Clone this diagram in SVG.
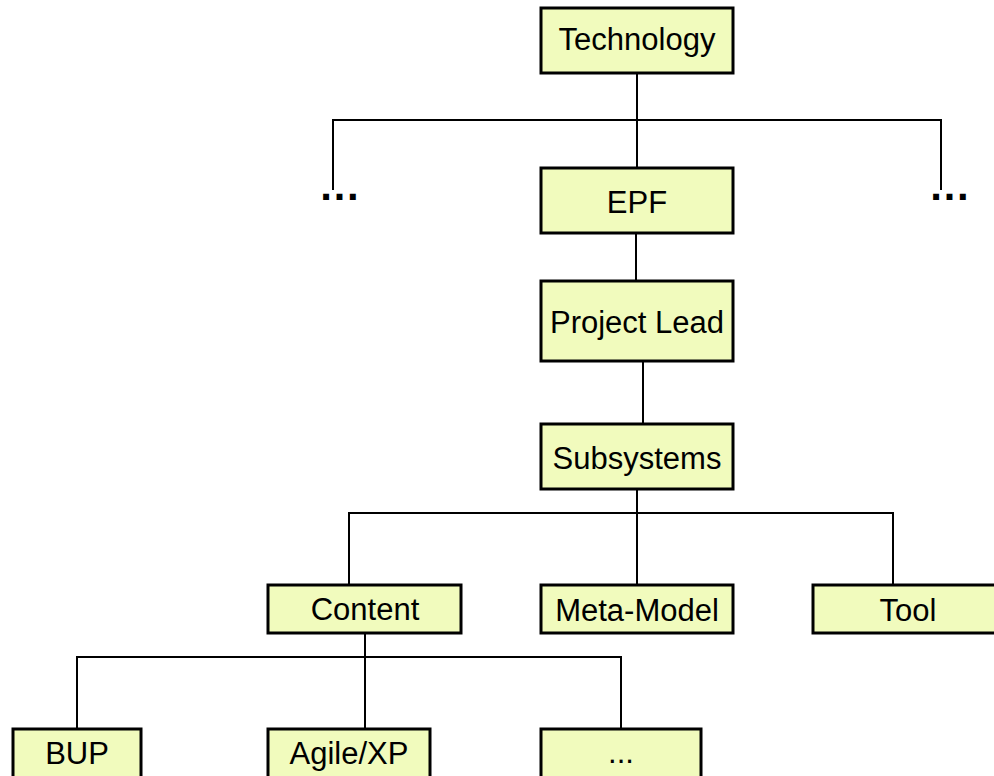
<svg xmlns="http://www.w3.org/2000/svg" width="994" height="776" viewBox="0 0 994 776">
<style>
.box{fill:#F1FBBD;stroke:#000;stroke-width:3}
.lbl{font-family:"Liberation Sans",Arial,sans-serif;font-size:31px;fill:#000;text-anchor:middle}
.dots{font-size:42px;font-weight:bold}
.ln{fill:none;stroke:#000;stroke-width:2}
</style>
<rect width="994" height="776" fill="#fff"/>
<g id="connectors">
<path class="ln" d="M637 73V168"/>
<path class="ln" d="M333 190V120H941V190"/>
<path class="ln" d="M636 233V281"/>
<path class="ln" d="M643 361V424"/>
<path class="ln" d="M637 489V585"/>
<path class="ln" d="M349 585V513H893V585"/>
<path class="ln" d="M365 633V729"/>
<path class="ln" d="M77 729V657H621V729"/>
</g>
<g id="technology"><rect class="box" x="541" y="8" width="192" height="65"/><text class="lbl" x="637" y="50">Technology</text></g>
<g id="dots-left"><text class="lbl dots" x="339.5" y="200">…</text></g>
<g id="dots-right"><text class="lbl dots" x="949.5" y="200">…</text></g>
<g id="epf"><rect class="box" x="541" y="168" width="192" height="65"/><text class="lbl" x="637" y="213">EPF</text></g>
<g id="project-lead"><rect class="box" x="541" y="281" width="192" height="80"/><text class="lbl" x="637" y="333">Project Lead</text></g>
<g id="subsystems"><rect class="box" x="541" y="424" width="192" height="65"/><text class="lbl" x="637" y="469">Subsystems</text></g>
<g id="content"><rect class="box" x="268" y="585" width="193" height="48"/><text class="lbl" x="365" y="620">Content</text></g>
<g id="meta-model"><rect class="box" x="541" y="585" width="192" height="48"/><text class="lbl" x="637" y="621">Meta-Model</text></g>
<g id="tool"><rect class="box" x="813" y="585" width="192" height="48"/><text class="lbl" x="908" y="621">Tool</text></g>
<g id="bup"><rect class="box" x="13" y="729" width="128" height="60"/><text class="lbl" x="77" y="764">BUP</text></g>
<g id="agile-xp"><rect class="box" x="268" y="729" width="162" height="60"/><text class="lbl" x="349" y="764">Agile/XP</text></g>
<g id="more"><rect class="box" x="541" y="729" width="160" height="60"/><text class="lbl" x="621" y="763">...</text></g>
</svg>
